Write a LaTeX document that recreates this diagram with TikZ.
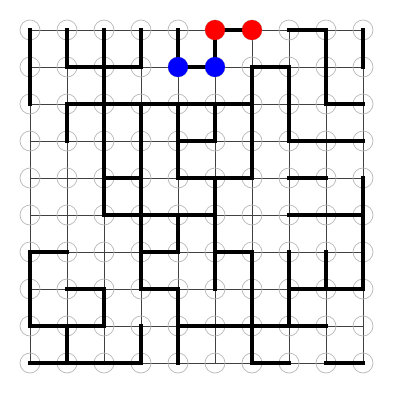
\documentclass[tikz,border=0pt]{standalone}
\begin{document}
\begin{tikzpicture}[x=1pt,y=-1pt,
  gridline/.style={draw=black!75,line width=0.9pt},
  ring/.style={circle,draw=black!28,line width=0.7pt,minimum size=20pt,inner sep=0pt},
  wall/.style={line width=3.4pt,line cap=rect},
  reddot/.style={circle,fill=red,minimum size=20pt,inner sep=0pt},
  bluedot/.style={circle,fill=blue,minimum size=20pt,inner sep=0pt}]
\useasboundingbox (0,0) rectangle (400,400);
% grid positions
\foreach \i in {0,...,9}{
  \foreach \j in {0,...,9}{
    \coordinate (p-\i-\j) at ({30+37*\i},{30+37*\j});
  }
}
% grid lines
\foreach \k in {0,...,9}{
  \draw[gridline] (p-0-\k) -- (p-9-\k);
  \draw[gridline] (p-\k-0) -- (p-\k-9);
}
% rings
\foreach \i in {0,...,9}{
  \foreach \j in {0,...,9}{
    \node[ring] (n-\i-\j) at (p-\i-\j) {};
  }
}
% thick walls
\foreach \a/\b/\c/\d in {
  0/0/0/2, 1/0/1/1, 1/1/3/1, 2/0/2/5, 3/0/3/1, 4/0/4/1, 4/1/5/1,
  5/0/6/0, 5/0/5/1, 1/2/6/2, 1/2/1/3, 3/2/3/7, 2/4/3/4, 4/2/4/4,
  4/3/5/3, 5/2/5/3, 4/4/6/4, 6/1/6/4, 6/1/7/1, 7/1/7/3, 7/3/9/3,
  7/0/8/0, 8/0/8/2, 8/2/9/2, 9/0/9/1, 7/4/8/4, 9/4/9/7, 5/4/5/7,
  2/5/5/5, 7/5/9/5, 3/6/4/6, 4/5/4/6, 3/7/4/7, 4/7/4/9, 4/8/8/8,
  0/6/0/8, 0/6/1/6, 0/8/2/8, 1/7/2/7, 2/7/2/8, 1/8/1/9, 0/9/3/9,
  3/8/3/9, 5/6/6/6, 6/6/6/9, 6/9/7/9, 7/6/7/8, 7/7/9/7, 8/6/8/7,
  8/9/9/9}{
  \draw[wall] (n-\a-\b.center) -- (n-\c-\d.center);
}
% coloured dots
\node[reddot] (r1) at (p-5-0) {};
\node[reddot] (r2) at (p-6-0) {};
\node[bluedot] (b1) at (p-4-1) {};
\node[bluedot] (b2) at (p-5-1) {};
\end{tikzpicture}
\end{document}
